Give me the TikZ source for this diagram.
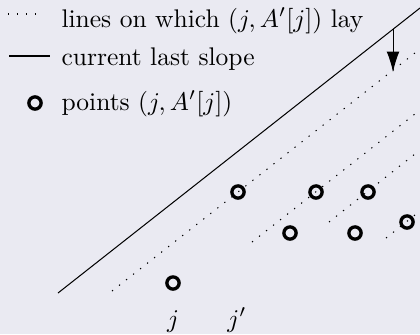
\documentclass[tikz,border=0pt]{standalone}
\usepackage{amsmath}
\usepackage{amssymb}
\usetikzlibrary{arrows.meta}
\definecolor{bgpanel}{HTML}{EAEAF2}

\begin{document}
\begin{tikzpicture}[x=0.392pt,y=-0.392pt,
  dotline/.style={line width=0.4pt,dash pattern=on 0.5pt off 3pt},
  pt/.style={circle,draw,line width=1.3pt,minimum size=4.8pt,inner sep=0pt},
  lbl/.style={anchor=base west,inner sep=0pt}]
\fill[bgpanel] (0,0) rectangle (420,334);
\useasboundingbox (0,0) rectangle (420,334);
% legend
\coordinate (k1a) at (8,14);   \coordinate (k1b) at (43,14);
\coordinate (k2a) at (9,56);   \coordinate (k2b) at (50,56);
\draw[dotline] (k1a)--(k1b);
\draw (k2a)--(k2b);
\node[pt] (k3) at (35,103) {};
\node[lbl] (t1) at (61,27) {lines on which $(j,A'[j])$ lay};
\node[lbl] (t2) at (61,65) {current last slope};
\node[lbl] (t3) at (61,110) {points $(j,A'[j])$};
% slope and lines
\coordinate (s0) at (58,293);  \coordinate (s1) at (420,8);
\coordinate (a0) at (112,291); \coordinate (a1) at (420,49);
\coordinate (b0) at (252,242); \coordinate (b1) at (420,110);
\coordinate (c0) at (329,222); \coordinate (c1) at (420,150);
\coordinate (d0) at (386,238); \coordinate (d1) at (420,211);
\coordinate (top) at (393,29); \coordinate (bot) at (393,72);
\draw (s0)--(s1);
\draw[dotline] (a0)--(a1);
\draw[dotline] (b0)--(b1);
\draw[dotline] (c0)--(c1);
\draw[dotline] (d0)--(d1);
\draw[-{Latex[length=8pt,width=5pt]}] (top)--(bot);
% points
\node[pt] (pj) at (173,283) {};
\node[pt] (pk) at (238,192) {};
\node[pt] (p3) at (290,233) {};
\node[pt] (p4) at (316,192) {};
\node[pt] (p5) at (355,233) {};
\node[pt] (p6) at (368,192) {};
\node[pt] (p7) at (407,222) {};
\node[anchor=base,inner sep=0pt] (lj) at (173,327) {$j$};
\node[anchor=base,inner sep=0pt] (lk) at (237,327) {$j'$};
\end{tikzpicture}
\end{document}
